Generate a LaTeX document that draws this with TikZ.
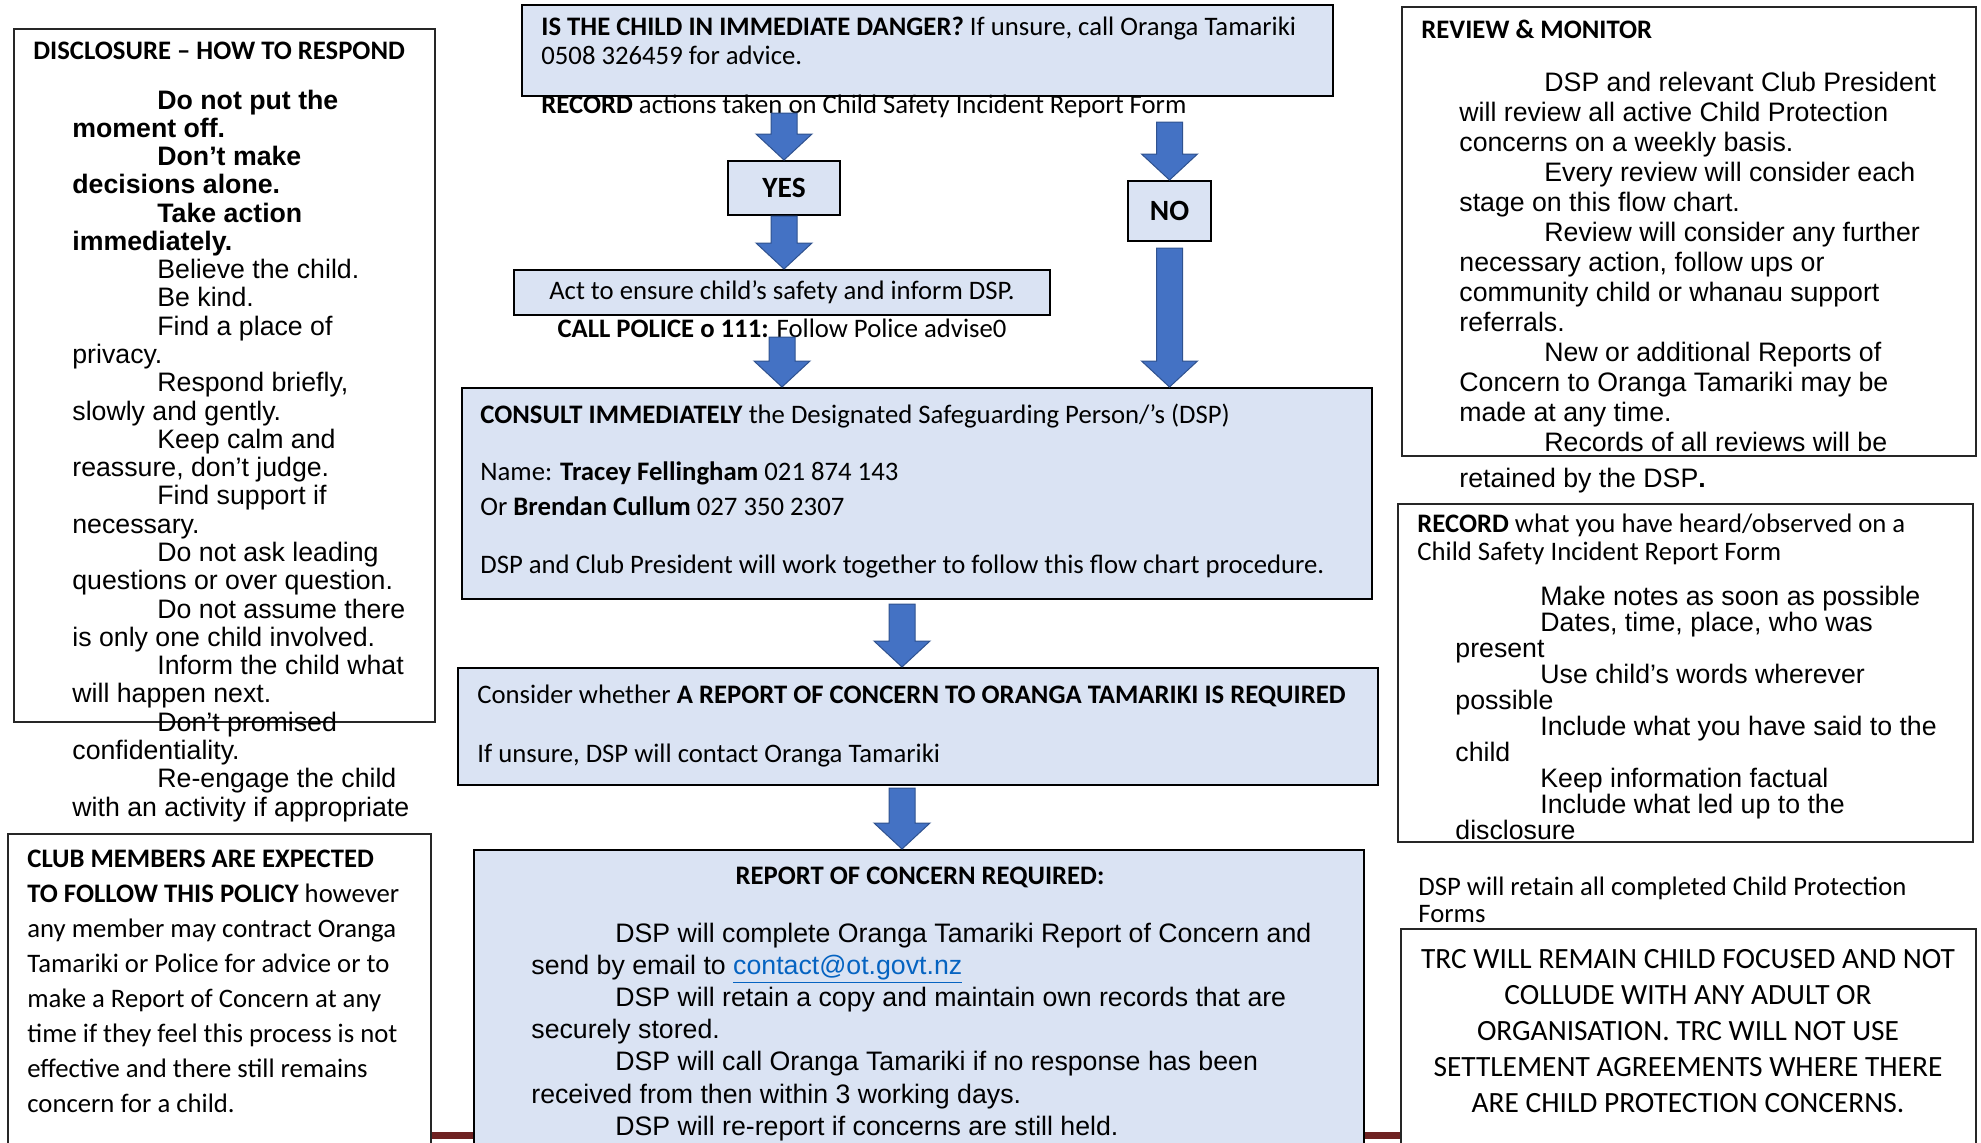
\documentclass[tikz,border=0pt]{standalone}
\usepackage{fontspec}
\setmainfont{Carlito}
\newfontfamily\arial{Liberation Sans}
\usetikzlibrary{calc,fit}
\definecolor{boxblue}{HTML}{DAE3F3}
\definecolor{arrowblue}{HTML}{4472C4}
\definecolor{arrowedge}{HTML}{2F528F}
\definecolor{linkblue}{HTML}{0563C1}
\definecolor{bandred}{HTML}{6E2222}
\newcommand\blockarrow[2]{%
  \draw[barrow] let \p1=(#1), \p2=(#2) in
    (\x2-6.5pt,\y1) -- (\x2-6.5pt,\y2+13pt) -- (\x2-14pt,\y2+13pt) -- (\x2,\y2)
    -- (\x2+14pt,\y2+13pt) -- (\x2+6.5pt,\y2+13pt) -- (\x2+6.5pt,\y1) -- cycle;}
\begin{document}
\fontsize{13.35}{16}\selectfont
\begin{tikzpicture}[x=0.5pt, y=-0.5pt,
    bluebox/.style={draw=black, line width=1pt, fill=boxblue, inner sep=0pt},
    whitebox/.style={draw=black!85, line width=1pt, fill=white, inner sep=0pt},
    txt/.style={anchor=base west, inner sep=0pt},
    ctxt/.style={anchor=base, inner sep=0pt},
    big/.style={font=\fontsize{14.7}{17}\selectfont},
    bigbold/.style={font=\fontsize{14.7}{17}\selectfont\bfseries},
    barrow/.style={fill=arrowblue, draw=arrowedge, line width=.5pt, line join=miter}]
    \useasboundingbox (0,0) rectangle (1981,1142);
    \clip (0,0) rectangle (1981,1142);
    \fill[bandred] (431,1132) rectangle (1400,1139);

    \node[whitebox, fit={(14,29) (435,722)}] (disc) {};
    \node[txt, font=\bfseries] (disctitle) at (33,59) {DISCLOSURE – HOW TO RESPOND};
    \foreach \x/\t [count=\i from 0] in {157/{\bfseries Do not put the}, 72/{\bfseries moment off.},
        157/{\bfseries Don’t make}, 72/{\bfseries decisions alone.}, 157/{\bfseries Take action},
        72/{\bfseries immediately.}, 157/{Believe the child.}, 157/{Be kind.}, 157/{Find a place of},
        72/{privacy.}, 157/{Respond briefly,}, 72/{slowly and gently.}, 157/{Keep calm and},
        72/{reassure, don’t judge.}, 157/{Find support if}, 72/{necessary.}, 157/{Do not ask leading},
        72/{questions or over question.}, 157/{Do not assume there}, 72/{is only one child involved.},
        157/{Inform the child what}, 72/{will happen next.}, 157/{Don’t promised},
        72/{confidentiality.}, 157/{Re-engage the child}, 72/{with an activity if appropriate}}
    \node[txt, font=\arial] (dl\i) at (\x,109+28.28*\i) {\t};

    \node[whitebox, fit={(8,834) (431,1160)}] (club) {};
    \foreach \t [count=\i from 0] in {{\bfseries CLUB MEMBERS ARE EXPECTED},
        {\bfseries TO FOLLOW THIS POLICY} however, any member may contract Oranga,
        Tamariki or Police for advice or to, make a Report of Concern at any,
        time if they feel this process is not, effective and there still remains,
        concern for a child.}
    \node[txt] (cl\i) at (27,867+35*\i) {\t};

    \node[bluebox, fit={(522,5) (1333,96)}] (danger) {};
    \node[txt] (danger1) at (541,35) {\textbf{IS THE CHILD IN IMMEDIATE DANGER?} If unsure, call Oranga Tamariki};
    \node[txt] (danger2) at (541,64) {0508 326459 for advice.};
    \node[txt] (record) at (541,113) {\textbf{RECORD} actions taken on Child Safety Incident Report Form};
    \node[bluebox, fit={(728,161) (840,215)}] (yes) {};
    \node[bigbold, inner sep=0pt] (yestext) at (yes.center) {YES};
    \node[bluebox, fit={(1128,181) (1211,241)}] (no) {};
    \node[bigbold, inner sep=0pt] (notext) at (no.center) {NO};
    \node[bluebox, fit={(514,270) (1050,315)}] (act) {};
    \node[inner sep=0pt] (acttext) at (act.center) {Act to ensure child’s safety and inform DSP.};
    \node[ctxt] (police) at (782,337) {\textbf{CALL POLICE o 111:} Follow Police advise0};

    \node[bluebox, fit={(462,388) (1372,599)}] (consult) {};
    \node[txt] (consult1) at (480,423) {\textbf{CONSULT IMMEDIATELY} the Designated Safeguarding Person/’s (DSP)};
    \node[txt] (consult2) at (480,480) {Name: \textbf{Tracey Fellingham} 021 874 143};
    \node[txt] (consult3) at (480,515) {Or \textbf{Brendan Cullum} 027 350 2307};
    \node[txt] (consult4) at (480,573) {DSP and Club President will work together to follow this flow chart procedure.};

    \node[bluebox, fit={(458,668) (1378,785)}] (consider) {};
    \node[txt] (consider1) at (477,703) {Consider whether \textbf{A REPORT OF CONCERN TO ORANGA TAMARIKI IS REQUIRED}};
    \node[txt] (consider2) at (477,762) {If unsure, DSP will contact Oranga Tamariki};

    \node[bluebox, fit={(474,850) (1364,1160)}] (report) {};
    \node[ctxt, font=\bfseries] (reporttitle) at (920,884) {REPORT OF CONCERN REQUIRED:};
    \foreach \x/\t [count=\i from 0] in {615/{DSP will complete Oranga Tamariki Report of Concern and},
        531/{send by email to {\color{linkblue}\underline{contact@ot.govt.nz}}},
        615/{DSP will retain a copy and maintain own records that are}, 531/{securely stored.},
        615/{DSP will call Oranga Tamariki if no response has been},
        531/{received from then within 3 working days.}, 615/{DSP will re-report if concerns are still held.}}
    \node[txt, font=\arial] (rl\i) at (\x,942+32.2*\i) {\t};

    \node[whitebox, fit={(1402,7) (1976,456)}] (review) {};
    \node[txt, font=\bfseries] (reviewtitle) at (1421,38) {REVIEW \& MONITOR};
    \foreach \x/\t [count=\i from 0] in {1544/{DSP and relevant Club President},
        1459/{will review all active Child Protection}, 1459/{concerns on a weekly basis.},
        1544/{Every review will consider each}, 1459/{stage on this flow chart.},
        1544/{Review will consider any further}, 1459/{necessary action, follow ups or},
        1459/{community child or whanau support}, 1459/{referrals.}, 1544/{New or additional Reports of},
        1459/{Concern to Oranga Tamariki may be}, 1459/{made at any time.}, 1544/{Records of all reviews will be}}
    \node[txt, font=\arial] (vl\i) at (\x,91+30*\i) {\t};
    \node[txt, font=\arial] (vlast) at (1459,487) {retained by the DSP\textbf{.}};

    \node[whitebox, fit={(1398,504) (1973,842)}] (notes) {};
    \node[txt] (notes1) at (1417,532) {\textbf{RECORD} what you have heard/observed on a};
    \node[txt] (notes2) at (1417,560) {Child Safety Incident Report Form};
    \foreach \x/\t [count=\i from 0] in {1540/{Make notes as soon as possible}, 1540/{Dates, time, place, who was},
        1455/{present}, 1540/{Use child’s words wherever}, 1455/{possible},
        1540/{Include what you have said to the}, 1455/{child}, 1540/{Keep information factual},
        1540/{Include what led up to the}, 1455/{disclosure}}
    \node[txt, font=\arial] (nl\i) at (\x,605+26*\i) {\t};
    \node[txt] (forms1) at (1418,895) {DSP will retain all completed Child Protection};
    \node[txt] (forms2) at (1418,922) {Forms};

    \node[whitebox, fit={(1401,929) (1976,1160)}] (trc) {};
    \foreach \t [count=\i from 0] in {TRC WILL REMAIN CHILD FOCUSED AND NOT, COLLUDE WITH ANY ADULT OR,
        ORGANISATION. TRC WILL NOT USE, SETTLEMENT AGREEMENTS WHERE THERE, ARE CHILD PROTECTION CONCERNS.}
    \node[ctxt, big] (tl\i) at (1688,968+36.2*\i) {\t};

    \blockarrow{record.base -| yes.north}{yes.north}
    \blockarrow{yes.south}{yes.south |- act.north}
    \blockarrow{police.base}{police.base |- consult.north}
    \blockarrow{$(danger.south -| no.north)+(0,25)$}{no.north}
    \blockarrow{$(no.south)+(0,6)$}{no.south |- consult.north}
    \blockarrow{$(consult.south)+(0,4)$}{$(consider.north)+(-16,0)$}
    \blockarrow{$(consider.south)+(0,2)$}{$(report.north)+(-17,0)$}
\end{tikzpicture}
\end{document}
